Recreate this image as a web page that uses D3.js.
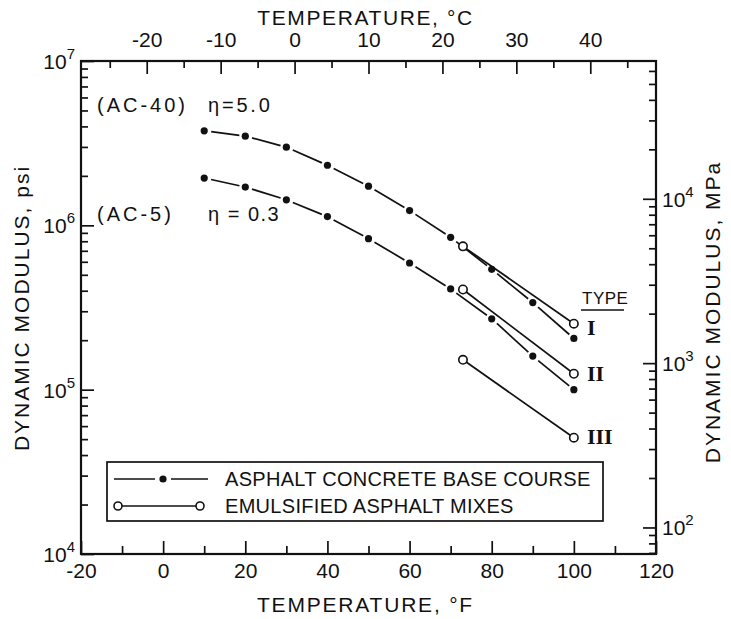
<!DOCTYPE html>
<html>
<head>
<meta charset="utf-8">
<script src="https://cdn.jsdelivr.net/npm/d3@7"></script>
<style>
    body { margin: 0; background: #fff; }
    svg text { font-family: "Liberation Sans", Arial, sans-serif; fill: #111; }
    .tick line { stroke: #111; stroke-width: 1.7; }
    .roman { font-family: "Liberation Serif", serif; }
</style>
</head>
<body>
<div id="chart"></div>
<script>
//data
const tempF = [10, 20, 30, 40, 50, 60, 70, 80, 90, 100];
const ac40 = [3.76e6, 3.49e6, 2.99e6, 2.32e6, 1.73e6, 1.23e6, 8.45e5, 5.4e5, 3.39e5, 2.05e5];
const ac5 = [1.94e6, 1.71e6, 1.43e6, 1.13e6, 8.3e5, 5.9e5, 4.1e5, 2.7e5, 1.6e5, 1.0e5];

const emulTemp = [73, 100];
const type1 = [7.45e5, 2.52e5];
const type2 = [4.07e5, 1.25e5];
const type3 = [1.52e5, 5.1e4];

const typeLabels = ["I", "II", "III"];
const typeLabelAt = [2.37e5, 1.24e5, 5.15e4];

const fLabels = [-20, 0, 20, 40, 60, 80, 100, 120];
const cLabels = [-20, -10, 0, 10, 20, 30, 40];
const psiExp = [4, 5, 6, 7];
const mpaExp = [2, 3, 4];

const width = 731;
const height = 619;
const margin = { top: 61, left: 81, right: 75, bottom: 65 };

const svg = d3.select("#chart")
    .append("svg")
    .attr("width", width)
    .attr("height", height);

//scales
const xScale = d3.scaleLinear().domain([-20, 120]).range([margin.left, width - margin.right]);
const yScale = d3.scaleLog().domain([1e4, 1e7]).range([height - margin.bottom, margin.top]);
const cScale = d3.scaleLinear().domain([(-20 - 32) / 1.8, (120 - 32) / 1.8]).range(xScale.range());
const mpaScale = d3.scaleLog().domain([1e4 * 0.006895, 1e7 * 0.006895]).range(yScale.range());

const x0 = margin.left, x1 = width - margin.right;
const y0 = margin.top, y1 = height - margin.bottom;

//minor log tick values
function logMinor(scale) {
    const [a, b] = scale.domain();
    let vals = [];
    for (let e = Math.floor(Math.log10(a)); e <= Math.ceil(Math.log10(b)); e++) {
        for (let m = 2; m <= 9; m++) {
            const v = m * Math.pow(10, e);
            if (v > a && v < b) vals.push(v);
        }
    }
    return vals;
}

function addAxis(axis) {
    const g = svg.append("g").call(axis);
    g.select(".domain").remove();
    return g;
}

//bottom axis (F)
addAxis(d3.axisBottom(xScale).tickValues(d3.range(-10, 120, 20)).tickSize(-8).tickFormat(""))
    .attr("transform", `translate(0,${y1})`);
addAxis(d3.axisBottom(xScale).tickValues(fLabels).tickSize(-13).tickPadding(9).tickFormat(d => d))
    .attr("transform", `translate(0,${y1})`)
    .selectAll("text").attr("font-size", 21).attr("font-family", "Liberation Sans");

//top axis (C)
addAxis(d3.axisTop(cScale).tickValues(d3.range(-25, 50, 10)).tickSize(-7).tickFormat(""))
    .attr("transform", `translate(0,${y0})`);
addAxis(d3.axisTop(cScale).tickValues(cLabels).tickSize(-13).tickPadding(14).tickFormat(d => d))
    .attr("transform", `translate(0,${y0})`)
    .selectAll("text").attr("font-size", 21).attr("font-family", "Liberation Sans");

//left axis (psi)
addAxis(d3.axisLeft(yScale).tickValues(logMinor(yScale)).tickSize(-7).tickFormat(""))
    .attr("transform", `translate(${x0},0)`);
addAxis(d3.axisLeft(yScale).tickValues(psiExp.map(e => Math.pow(10, e))).tickSize(-13).tickFormat(""))
    .attr("transform", `translate(${x0},0)`);

//right axis (MPa)
addAxis(d3.axisRight(mpaScale).tickValues(logMinor(mpaScale)).tickSize(-7).tickFormat(""))
    .attr("transform", `translate(${x1},0)`);
addAxis(d3.axisRight(mpaScale).tickValues(mpaExp.map(e => Math.pow(10, e))).tickSize(-13).tickFormat(""))
    .attr("transform", `translate(${x1},0)`);

//frame
svg.append("rect")
    .attr("x", x0).attr("y", y0)
    .attr("width", x1 - x0).attr("height", y1 - y0)
    .attr("fill", "none").attr("stroke", "#111").attr("stroke-width", 2.2);

//power-of-ten labels
function powLabel(xPos, yPos, exp, anchor) {
    const t = svg.append("text")
        .attr("x", xPos).attr("y", yPos + 8)
        .attr("text-anchor", anchor)
        .attr("font-size", 21)
        .text("10");
    t.append("tspan").attr("dy", -10).attr("font-size", 15).text(exp);
}
psiExp.forEach(e => powLabel(x0 - 6, yScale(Math.pow(10, e)), e, "end"));
mpaExp.forEach(e => powLabel(x1 + 6, mpaScale(Math.pow(10, e)), e, "start"));

//axis titles
svg.append("text")
    .attr("x", (x0 + x1) / 2 - 3).attr("y", 25)
    .attr("text-anchor", "middle").attr("font-size", 21)
    .attr("letter-spacing", 1.6)
    .text("TEMPERATURE, °C");

svg.append("text")
    .attr("x", (x0 + x1) / 2 - 3).attr("y", 612)
    .attr("text-anchor", "middle").attr("font-size", 21)
    .attr("letter-spacing", 1.8)
    .text("TEMPERATURE, °F");

svg.append("text")
    .attr("transform", "rotate(-90)")
    .attr("x", -308).attr("y", 29)
    .attr("text-anchor", "middle").attr("font-size", 21)
    .attr("letter-spacing", 2)
    .text("DYNAMIC MODULUS, psi");

svg.append("text")
    .attr("transform", "rotate(-90)")
    .attr("x", -312).attr("y", 720)
    .attr("text-anchor", "middle").attr("font-size", 21)
    .attr("letter-spacing", 2)
    .text("DYNAMIC MODULUS, MPa");

//asphalt concrete curves: dashes broken at each dot
function drawDotted(temps, vals) {
    const pts = temps.map((t, i) => [xScale(t), yScale(vals[i])]);
    for (let i = 0; i < pts.length - 1; i++) {
        const [ax, ay] = pts[i], [bx, by] = pts[i + 1];
        const len = Math.hypot(bx - ax, by - ay);
        const ux = (bx - ax) / len, uy = (by - ay) / len;
        svg.append("line")
            .attr("x1", ax + ux * 7).attr("y1", ay + uy * 7)
            .attr("x2", bx - ux * 6).attr("y2", by - uy * 6)
            .attr("stroke", "#111").attr("stroke-width", 1.7);
    }
    svg.selectAll(null)
        .data(pts)
        .enter()
        .append("circle")
        .attr("cx", d => d[0]).attr("cy", d => d[1])
        .attr("r", 3.6).attr("fill", "#111");
}
drawDotted(tempF, ac40);
drawDotted(tempF, ac5);

//emulsified mixes: solid line between open circles
function drawOpen(temps, vals) {
    const pts = temps.map((t, i) => [xScale(t), yScale(vals[i])]);
    svg.append("path")
        .attr("d", d3.line()(pts))
        .attr("fill", "none").attr("stroke", "#111").attr("stroke-width", 1.7);
    svg.selectAll(null)
        .data(pts)
        .enter()
        .append("circle")
        .attr("cx", d => d[0]).attr("cy", d => d[1])
        .attr("r", 4.2).attr("fill", "#fff")
        .attr("stroke", "#111").attr("stroke-width", 1.6);
}
[type1, type2, type3].forEach(s => drawOpen(emulTemp, s));

//type labels
svg.append("text")
    .attr("x", 582).attr("y", 304)
    .attr("font-size", 17).attr("letter-spacing", 0.5)
    .text("TYPE");
svg.append("line")
    .attr("x1", 581).attr("x2", 624).attr("y1", 310).attr("y2", 310)
    .attr("stroke", "#111").attr("stroke-width", 1.5);

svg.selectAll(".roman")
    .data(typeLabels)
    .enter()
    .append("text")
    .attr("class", "roman")
    .attr("x", 587)
    .attr("y", (d, i) => yScale(typeLabelAt[i]) + 7)
    .attr("font-size", 22)
    .attr("font-weight", "bold")
    .text(d => d);

//curve annotations
svg.append("text").attr("x", 97).attr("y", 112).attr("font-size", 20).attr("letter-spacing", 3).text("(AC-40)");
svg.append("text").attr("x", 208).attr("y", 112).attr("font-size", 20).attr("letter-spacing", 2.8).text("η=5.0");
svg.append("text").attr("x", 97).attr("y", 221).attr("font-size", 20).attr("letter-spacing", 3).text("(AC-5)");
svg.append("text").attr("x", 208).attr("y", 221).attr("font-size", 20).attr("letter-spacing", 1.5).text("η = 0.3");

//legend
const legend = svg.append("g");
legend.append("rect")
    .attr("x", 107).attr("y", 462).attr("width", 496).attr("height", 59)
    .attr("fill", "#fff").attr("stroke", "#111").attr("stroke-width", 1.7);

const ly1 = 479, ly2 = 506;
legend.append("line").attr("x1", 114).attr("x2", 155).attr("y1", ly1).attr("y2", ly1)
    .attr("stroke", "#111").attr("stroke-width", 1.7);
legend.append("line").attr("x1", 171).attr("x2", 208).attr("y1", ly1).attr("y2", ly1)
    .attr("stroke", "#111").attr("stroke-width", 1.7);
legend.append("circle").attr("cx", 163).attr("cy", ly1).attr("r", 3.6).attr("fill", "#111");

legend.append("line").attr("x1", 118).attr("x2", 200).attr("y1", ly2).attr("y2", ly2)
    .attr("stroke", "#111").attr("stroke-width", 1.7);
legend.selectAll(null)
    .data([118, 200])
    .enter()
    .append("circle")
    .attr("cx", d => d).attr("cy", ly2).attr("r", 4)
    .attr("fill", "#fff").attr("stroke", "#111").attr("stroke-width", 1.6);

legend.append("text").attr("x", 225).attr("y", ly1 + 7).attr("font-size", 20).attr("letter-spacing", 0.3)
    .text("ASPHALT CONCRETE BASE COURSE");
legend.append("text").attr("x", 225).attr("y", ly2 + 7).attr("font-size", 20).attr("letter-spacing", 0.3)
    .text("EMULSIFIED ASPHALT MIXES");
</script>
</body>
</html>
